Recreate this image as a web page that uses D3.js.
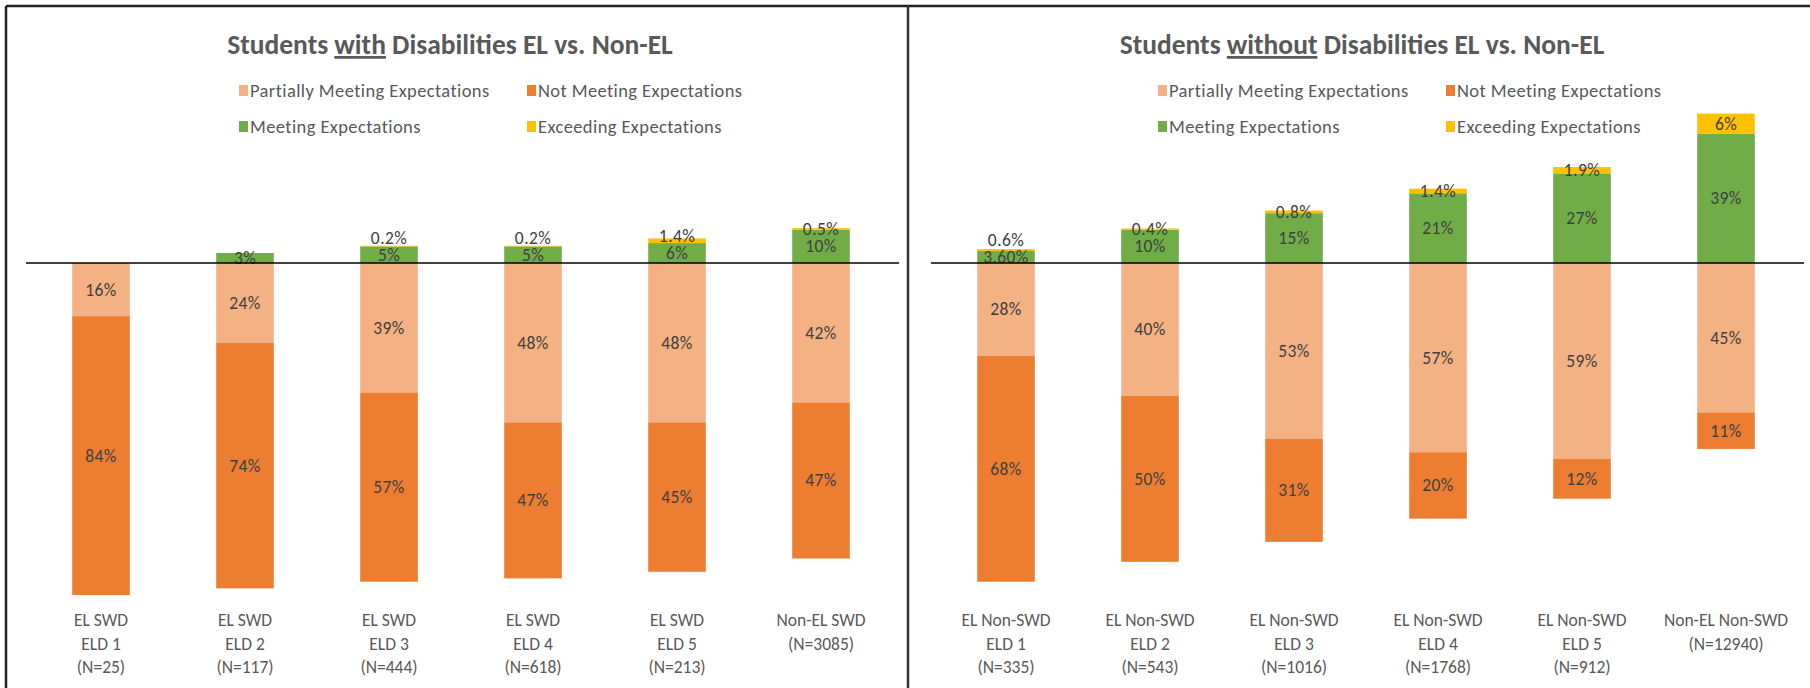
<!DOCTYPE html>
<html>
<head>
<meta charset="utf-8">
<script src="https://cdn.jsdelivr.net/npm/d3@7"></script>
<style>
  body { margin: 0; background: #fff; }
  text { font-family: Calibri, Carlito, "Liberation Sans Narrow", "Open Sans", sans-serif; }
  .title { font-weight: bold; fill: #595959; }
  .legend text { fill: #595959; }
  .dlabel { fill: #404040; }
  .cat { fill: #595959; }
</style>
</head>
<body>
<div id="chart"></div>
<script>
// series (in percent), left = students with disabilities, right = without
var seriesNames = ["Partially Meeting Expectations", "Not Meeting Expectations",
                   "Meeting Expectations", "Exceeding Expectations"];
var seriesColors = ["#F4B183", "#ED7D31", "#70AD47", "#FFC000"];

var catsLeft = [["EL SWD", "ELD 1", "(N=25)"], ["EL SWD", "ELD 2", "(N=117)"],
                ["EL SWD", "ELD 3", "(N=444)"], ["EL SWD", "ELD 4", "(N=618)"],
                ["EL SWD", "ELD 5", "(N=213)"], ["Non-EL SWD", "(N=3085)"]];
var notMeetLeft   = [84, 74, 57, 47, 45, 47];
var partialLeft   = [16, 24, 39, 48, 48, 42];
var meetLeft      = [0, 3, 5, 5, 6, 10];
var exceedLeft    = [0, 0, 0.2, 0.2, 1.4, 0.5];

var catsRight = [["EL Non-SWD", "ELD 1", "(N=335)"], ["EL Non-SWD", "ELD 2", "(N=543)"],
                 ["EL Non-SWD", "ELD 3", "(N=1016)"], ["EL Non-SWD", "ELD 4", "(N=1768)"],
                 ["EL Non-SWD", "ELD 5", "(N=912)"], ["Non-EL Non-SWD", "(N=12940)"]];
var notMeetRight  = [68, 50, 31, 20, 12, 11];
var partialRight  = [28, 40, 53, 57, 59, 45];
var meetRight     = [3.6, 10, 15, 21, 27, 39];
var exceedRight   = [0.6, 0.4, 0.8, 1.4, 1.9, 6];

// the one label that Excel showed with two decimals (panel-bar-series)
var labelOverride = { "1-0-2": "3.60%" };

var width = 1810, height = 688;

var svg = d3.select("#chart").append("svg")
    .attr("width", width)
    .attr("height", height);

// frame: top line, left line, divider
svg.append("line").attr("x1", 6).attr("x2", width).attr("y1", 6).attr("y2", 6)
    .attr("stroke", "#222").attr("stroke-width", 2.5);
svg.append("line").attr("x1", 6).attr("x2", 6).attr("y1", 6).attr("y2", height)
    .attr("stroke", "#222").attr("stroke-width", 2.5);
svg.append("line").attr("x1", 908).attr("x2", 908).attr("y1", 6).attr("y2", height)
    .attr("stroke", "#333").attr("stroke-width", 2.5);

// shared vertical scale: negative = below the line
var y = d3.scaleLinear().domain([-100, 0]).range([595, 263]);

function fmt(v) {
    return (Number.isInteger(v) ? v : v.toFixed(1)) + "%";
}

function drawPanel(idx, offsetX, center, legendX, titleParts, cats, partial, notMeet, meet, exceed) {
    var g = svg.append("g").attr("transform", `translate(${offsetX},0)`);

    // title with underlined word
    var t = g.append("text")
        .attr("class", "title")
        .attr("x", center)
        .attr("y", 54)
        .attr("text-anchor", "middle")
        .style("font-size", "27.5px");
    t.append("tspan").text(titleParts[0]);
    t.append("tspan").attr("text-decoration", "underline").text(titleParts[1]);
    t.append("tspan").text(titleParts[2]);

    // legend
    var legendPos = [[legendX, 91], [legendX + 288, 91], [legendX, 127], [legendX + 288, 127]];
    var lg = g.append("g").attr("class", "legend");
    seriesNames.forEach(function(name, i) {
        lg.append("rect")
            .attr("x", legendPos[i][0])
            .attr("y", legendPos[i][1] - 6)
            .attr("width", 9).attr("height", 11)
            .attr("fill", seriesColors[i]);
        lg.append("text")
            .attr("x", legendPos[i][0] + 11)
            .attr("y", legendPos[i][1] + 6)
            .style("font-size", "18.5px")
            .style("letter-spacing", "0.4px")
            .text(name);
    });

    var x = d3.scaleBand()
        .domain(d3.range(cats.length))
        .range([29, 893])
        .paddingInner(0.6)
        .paddingOuter(0.3);

    // build stacked segments: partial & not-meeting go down, meeting & exceeding go up
    var rows = cats.map(function(c, i) {
        var segs = [];
        segs.push({ s: 0, y0: 0, y1: -partial[i], v: partial[i] });
        segs.push({ s: 1, y0: -partial[i], y1: -partial[i] - notMeet[i], v: notMeet[i] });
        segs.push({ s: 2, y0: 0, y1: meet[i], v: meet[i] });
        segs.push({ s: 3, y0: meet[i], y1: meet[i] + exceed[i], v: exceed[i] });
        return { i: i, segs: segs.filter(function(d) { return d.v > 0; }) };
    });

    var bars = g.selectAll(".bar")
        .data(rows)
        .enter()
        .append("g")
        .attr("class", "bar")
        .attr("transform", d => `translate(${x(d.i)},0)`);

    bars.selectAll("rect")
        .data(d => d.segs)
        .enter()
        .append("rect")
        .attr("x", 0)
        .attr("width", x.bandwidth())
        .attr("y", d => Math.min(y(d.y0), y(d.y1)))
        .attr("height", d => Math.abs(y(d.y0) - y(d.y1)))
        .attr("fill", d => seriesColors[d.s]);

    // label position: segment middle; thin top segments are pushed above the one below
    function labelY(d) {
        var cy = y((d.y0 + d.y1) / 2);
        if (d.s === 3) {
            var below = y(d.y0 / 2);
            cy = Math.min(cy, below - 17);
        }
        return cy + 6;
    }

    bars.selectAll(".dlabel")
        .data(function(d) { return d.segs.map(s => Object.assign({ i: d.i }, s)); })
        .enter()
        .append("text")
        .attr("class", "dlabel")
        .attr("x", x.bandwidth() / 2)
        .attr("y", labelY)
        .attr("text-anchor", "middle")
        .style("font-size", "17.5px")
        .style("letter-spacing", "0.4px")
        .text(d => labelOverride[idx + "-" + d.i + "-" + d.s] || fmt(d.v));

    // zero line
    g.append("line")
        .attr("x1", 26).attr("x2", 899)
        .attr("y1", y(0)).attr("y2", y(0))
        .attr("stroke", "#000").attr("stroke-width", 1.5);

    // category labels
    var cl = g.selectAll(".cat")
        .data(cats)
        .enter()
        .append("text")
        .attr("class", "cat")
        .attr("text-anchor", "middle")
        .style("font-size", "17.5px")
        .attr("transform", (d, i) => `translate(${x(i) + x.bandwidth() / 2},626)`);
    cl.selectAll("tspan")
        .data(d => d)
        .enter()
        .append("tspan")
        .attr("x", 0)
        .attr("y", (d, j) => j * 23.5)
        .text(d => d);
}

drawPanel(0, 0, 450, 239, ["Students ", "with", " Disabilities EL vs. Non-EL"],
          catsLeft, partialLeft, notMeetLeft, meetLeft, exceedLeft);
drawPanel(1, 905, 457, 253, ["Students ", "without", " Disabilities EL vs. Non-EL"],
          catsRight, partialRight, notMeetRight, meetRight, exceedRight);
</script>
</body>
</html>
